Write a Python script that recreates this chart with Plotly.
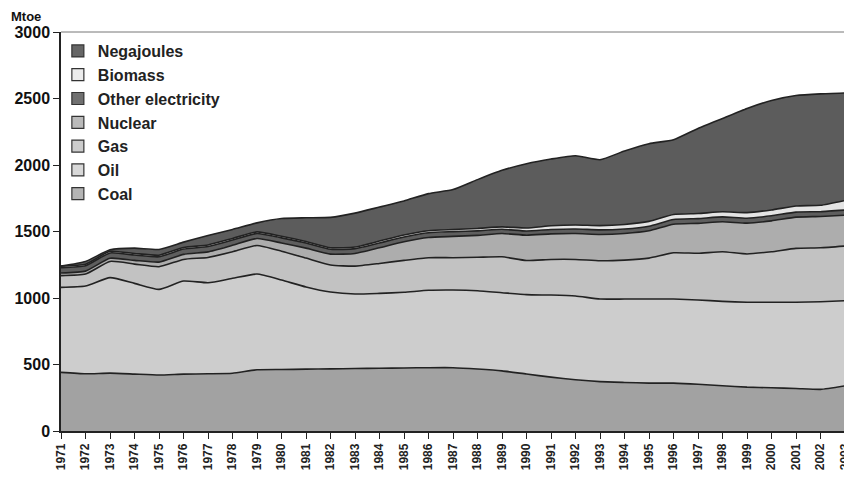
import plotly.graph_objects as go

years = list(range(1971, 2004))

coal = [441, 430, 435, 428, 421, 428, 430, 434, 460, 462, 465, 467, 470, 472, 474, 476, 476,
        466, 452, 428, 405, 385, 371, 365, 360, 360, 352, 340, 330, 325, 320, 313, 340]
oil = [639, 660, 718, 682, 644, 700, 685, 714, 720, 673, 618, 578, 560, 563, 569, 582, 584,
       589, 588, 597, 617, 630, 621, 627, 632, 632, 633, 635, 638, 643, 648, 659, 640]
gas = [88, 90, 122, 145, 170, 162, 190, 200, 215, 217, 217, 203, 210, 225, 240, 245, 243,
       251, 270, 257, 268, 275, 288, 293, 308, 348, 351, 373, 363, 380, 405, 406, 411]
nuclear = [20, 22, 24, 28, 35, 38, 42, 48, 52, 62, 75, 82, 95, 118, 140, 152, 160,
           165, 175, 190, 192, 195, 198, 200, 205, 215, 225, 225, 232, 232, 235, 235, 232]
other_elec = [40, 40, 40, 40, 40, 40, 40, 40, 38, 38, 38, 36, 36, 36, 36, 36, 36,
              34, 32, 32, 33, 34, 34, 34, 35, 35, 36, 37, 37, 38, 38, 36, 38]
biomass = [12, 12, 12, 12, 12, 12, 12, 12, 12, 12, 12, 12, 12, 14, 14, 15, 16,
           18, 18, 22, 28, 30, 32, 34, 36, 38, 38, 38, 42, 44, 46, 48, 72]
negajoules = [0, 21, 11, 40, 43, 40, 71, 67, 68, 134, 178, 228, 255, 256, 257, 279, 300,
              367, 425, 484, 502, 521, 496, 552, 584, 562, 640, 702, 783, 823, 830, 838, 809]

series = [
    ("Coal", coal, "#a2a2a2"),
    ("Oil", oil, "#cdcdcd"),
    ("Gas", gas, "#c2c2c2"),
    ("Nuclear", nuclear, "#adadad"),
    ("Other electricity", other_elec, "#5e5e5e"),
    ("Biomass", biomass, "#e4e4e4"),
    ("Negajoules", negajoules, "#5c5c5c"),
]
legend_colors = {
    "Negajoules": "#666666",
    "Biomass": "#ececec",
    "Other electricity": "#707070",
    "Nuclear": "#bababa",
    "Gas": "#cccccc",
    "Oil": "#d8d8d8",
    "Coal": "#b4b4b4",
}

FONT = "Arial, 'Liberation Sans', sans-serif"

fig = go.Figure()
for name, vals, col in series:
    fig.add_trace(go.Scatter(
        x=years, y=vals, name=name, stackgroup="one", mode="lines",
        line=dict(color="#222222", width=1.6, shape="spline", smoothing=0.5),
        fillcolor=col, showlegend=False, hoverinfo="x+y+name",
    ))

# legend entries (square swatches), top to bottom
for name in ["Negajoules", "Biomass", "Other electricity", "Nuclear", "Gas", "Oil", "Coal"]:
    fig.add_trace(go.Bar(
        x=[None], y=[None], name=name,
        marker=dict(color=legend_colors[name], line=dict(color="#333333", width=1.2)),
        showlegend=True,
    ))

# The page body has an 8px default margin, so the figure is sized/offset to compensate.
fig.update_layout(
    width=852, height=470,
    margin=dict(l=53, r=15, t=24, b=47),
    paper_bgcolor="white", plot_bgcolor="white",
    font=dict(family=FONT, color="#111111"),
    showlegend=True,
    legend=dict(
        x=-0.004, y=0.995, xanchor="left", yanchor="top",
        bgcolor="rgba(0,0,0,0)", borderwidth=0,
        font=dict(family=FONT, size=16, weight="bold", color="#222222"),
        traceorder="normal", tracegroupgap=0, itemwidth=30,
    ),
    xaxis=dict(
        range=[1971, 2003], tickmode="array", tickvals=years,
        ticktext=[str(y) for y in years], tickangle=-90,
        ticks="outside", ticklen=6, tickcolor="#222222", tickwidth=1.2,
        showline=True, linecolor="#222222", linewidth=1.5, mirror=False,
        showgrid=False, zeroline=False, automargin=False,
        ticklabeloverflow="allow",
        tickfont=dict(family=FONT, size=12, weight="bold", color="#222222"),
    ),
    yaxis=dict(
        range=[0, 3000], tickmode="array", tickvals=[0, 500, 1000, 1500, 2000, 2500, 3000],
        ticks="outside", ticklen=6, tickcolor="#222222", tickwidth=1.2,
        showline=True, linecolor="#222222", linewidth=1.5,
        showgrid=False, zeroline=False, automargin=False,
        tickfont=dict(family=FONT, size=16, weight="bold", color="#111111"),
    ),
    shapes=[
        dict(type="line", xref="paper", yref="paper", x0=0, x1=1, y0=1, y1=1,
             line=dict(color="#777777", width=1)),
        dict(type="line", xref="paper", yref="paper", x0=1, x1=1, y0=0, y1=1,
             line=dict(color="#444444", width=1.2)),
    ],
    annotations=[
        dict(text="Mtoe", xref="paper", yref="paper", x=-0.066, y=1.04,
             xanchor="left", yanchor="middle", showarrow=False,
             font=dict(family=FONT, size=13, weight="bold", color="#111111")),
    ],
)

fig.write_html("out.html")
